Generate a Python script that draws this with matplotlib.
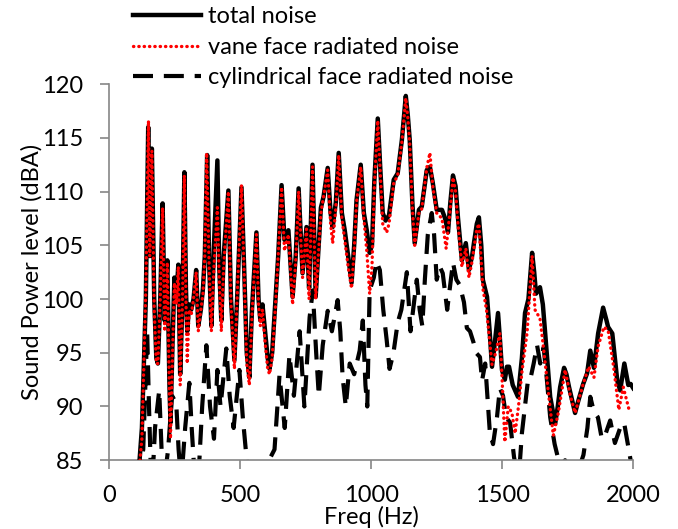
import matplotlib
matplotlib.use('Agg')
import matplotlib.pyplot as plt

plt.rcParams['font.family'] = ['Lato', 'DejaVu Sans']

# total noise (solid black)
total_f = [110, 125, 140, 149, 155, 163, 172, 180, 186, 195, 204, 212, 222, 230, 234, 242,
           249, 256, 264, 271, 280, 287, 293, 298, 305, 313, 322, 332, 340, 350, 358, 365,
           374, 382, 390, 400, 413, 420, 428, 437, 446, 455, 465, 478, 490, 505, 515, 525,
           535, 545, 562, 570, 577, 585, 595, 605, 612, 622, 635, 645, 658, 669, 684, 700,
           712, 723, 738, 753, 763, 776, 788, 797, 808, 818, 834, 845, 853, 865, 876, 888,
           899, 912, 925, 935, 944, 960, 972, 983, 994, 1003, 1012, 1025, 1035, 1044, 1055,
           1068, 1080, 1086, 1101, 1117, 1132, 1140, 1147, 1157, 1166, 1182, 1193, 1212,
           1224, 1235, 1250, 1270, 1282, 1293, 1302, 1312, 1322, 1331, 1346, 1361, 1373,
           1385, 1392, 1403, 1411, 1420, 1426, 1442, 1452, 1461, 1472, 1484, 1492, 1499,
           1510, 1518, 1526, 1540, 1560, 1575, 1587, 1600, 1614, 1622, 1629, 1644, 1655,
           1663, 1683, 1702, 1712, 1721, 1736, 1745, 1755, 1778, 1790, 1809, 1824, 1836,
           1850, 1866, 1885, 1898, 1904, 1920, 1939, 1950, 1966, 1981, 1990, 2000]
total_db = [83, 88, 100, 116.0, 104, 114.0, 100, 94.5, 94, 100, 108.9, 98, 103.6, 92, 88.5, 96,
            102, 100, 103.2, 93, 100, 111.8, 101, 97, 99.5, 99, 100, 102.7, 97.5, 99, 101, 104,
            113.4, 103, 97.5, 105, 112.9, 103, 98, 104, 107, 110.1, 100, 94.3, 101, 110.4, 103, 95,
            92.7, 99, 106.2, 100, 98, 99.5, 97, 94.5, 93.5, 95, 100, 104, 110.6, 105.5, 106.4, 100.2,
            104, 110.3, 102.4, 106.7, 101, 112.5, 100.2, 104, 108.5, 109.5, 112.2, 108, 106.7, 109, 113.6, 108,
            106.4, 104, 101.5, 105, 109.2, 112.5, 108, 106.4, 104.3, 105, 111, 116.8, 112, 108, 107.3,
            107.8, 110, 111.1, 111.7, 114.8, 118.9, 117, 114.8, 109, 105.2, 108.3, 108.6, 112,
            112.3, 110.8, 108.3, 108.3, 107.5, 106.2, 109, 111.5, 110.5, 107.6, 103.6, 105.2, 102.7,
            104, 105.2, 107, 107.6, 105, 101.8, 100.2, 97, 93.7, 96, 98.7, 96, 93.4,
            92.5, 93.7, 93.7, 92, 90.9, 94.5, 98.7, 100, 104.3, 102.5, 100.5, 101.1, 99.5,
            97.1, 90.9, 88.4, 90, 91.8, 93.6, 93, 91.8, 89.4, 90.5, 92.1, 93.1, 95.2,
            93.6, 96.8, 99.2, 98, 97.4, 96.8, 92.4, 91.5, 94, 92, 92.1, 91.7]

# vane face radiated noise (red dotted)
vane_f = [110, 125, 140, 150, 155, 163, 172, 180, 186, 195, 204, 212, 222, 230, 234, 242,
          249, 256, 264, 271, 280, 287, 293, 298, 305, 313, 322, 332, 340, 350, 358, 365,
          372, 382, 390, 400, 413, 420, 428, 437, 446, 455, 465, 478, 490, 505, 515, 525,
          535, 545, 562, 570, 577, 585, 595, 605, 612, 622, 635, 645, 658, 669, 684, 700,
          712, 723, 738, 753, 763, 776, 788, 797, 808, 818, 834, 845, 853, 865, 876, 888,
          899, 912, 925, 935, 944, 960, 972, 983, 994, 1003, 1012, 1025, 1035, 1044, 1059,
          1068, 1080, 1086, 1101, 1117, 1132, 1140, 1147, 1157, 1166, 1182, 1193, 1212,
          1224, 1235, 1250, 1270, 1286, 1302, 1312, 1322, 1331, 1346, 1361, 1373,
          1385, 1392, 1403, 1411, 1426, 1440, 1461, 1475, 1491, 1500, 1510, 1523, 1537,
          1549, 1562, 1576, 1595, 1614, 1625, 1644, 1655, 1678, 1695, 1714, 1740, 1759,
          1778, 1809, 1830, 1850, 1866, 1888, 1904, 1925, 1945, 1962, 1985]
vane_db = [83, 87, 101, 116.6, 104, 113.8, 99, 94, 94, 100, 108.5, 97, 103.4, 91, 87, 95,
           101.5, 99.5, 103, 92, 100, 111.5, 100, 94, 99, 98.5, 100, 102.5, 97, 99, 100.5, 104,
           113.6, 102.5, 97, 103, 108.5, 102, 97, 103, 106.5, 110, 99.5, 93.5, 101, 110.6, 102.5, 94,
           92, 98.5, 106, 99.5, 97.5, 99, 96, 93.5, 93, 94.5, 99.5, 104, 110.4, 104.5, 106, 99.5,
           103.5, 110, 102, 106.5, 100, 112.3, 100, 103.5, 108, 109.5, 112, 107, 105.2, 108.5, 113.4, 107.5,
           105.5, 103, 101, 104.5, 109, 112.3, 107.5, 104.5, 100.5, 103, 110.5, 116.6, 111.5, 107, 106.2,
           107, 109.5, 110.8, 111.5, 114.6, 118.7, 116.8, 114.5, 108.5, 105, 108, 108.4, 112.2,
           113.6, 110.5, 108, 107.5, 104.7, 108.5, 111.3, 110, 107, 103, 104.7, 102,
           103.5, 104.7, 106.5, 107, 101, 99, 93.9, 95, 96.8, 92.3, 86.7, 90, 89.4,
           87.5, 90, 93.4, 96.9, 104, 99, 98.2, 96, 90.9, 87.3, 89.4, 93.4, 91.1,
           89.4, 92.1, 93.7, 92.7, 95.6, 97.4, 97.1, 93.7, 89.7, 91.8, 89.6]

# cylindrical face radiated noise (dashed black)
cyl_f = [110, 130, 145, 152, 158, 165, 175, 191, 200, 210, 225, 240, 256, 265, 275, 290,
         306, 315, 325, 340, 355, 371, 385, 400, 413, 425, 447, 460, 475, 497, 510, 525,
         540, 560, 590, 610, 631, 650, 670, 688, 705, 727, 745, 765, 777, 790, 800, 815,
         834, 850, 872, 882, 891, 903, 918, 935, 956, 968, 978, 985, 994, 1010, 1020, 1033,
         1046, 1059, 1070, 1085, 1101, 1115, 1136, 1150, 1160, 1174, 1185, 1195, 1205, 1216,
         1231, 1240, 1250, 1262, 1273, 1290, 1300, 1312, 1325, 1338, 1354, 1365, 1377, 1390,
         1400, 1415, 1423, 1435, 1453, 1465, 1480, 1491, 1503, 1515, 1530, 1545, 1555, 1565,
         1575, 1598, 1606, 1620, 1633, 1645, 1658, 1670, 1683, 1700, 1720, 1740, 1760, 1790,
         1810, 1825, 1836, 1850, 1865, 1880, 1895, 1912, 1930, 1950, 1965, 1990, 2000]
cyl_db = [83, 86, 97, 90, 85, 83, 88, 91.5, 86, 83, 86, 91, 90.3, 86, 83, 88,
          92.2, 88, 84, 83, 90, 95.7, 90, 87, 93.4, 90, 95.4, 91, 88, 93.4, 89, 85,
          83, 83, 83, 85, 86, 92.9, 88, 94.8, 91, 97, 90, 98.3, 100.8, 95, 91, 95.7,
          98.9, 97, 99.9, 97, 92.7, 90, 94, 93, 95.2, 98, 92, 90, 100.8, 102, 103.5, 102.7,
          99, 96.2, 93.5, 95, 97.8, 99, 102.5, 97, 99, 101.8, 99, 97.5, 101.9, 106,
          108, 106, 101.8, 103, 102.4, 99, 101, 103.4, 101.8, 101.3, 99.7, 97.3, 97, 96,
          95, 94.6, 92.4, 94, 87.5, 86.5, 89, 91.7, 91, 89, 88.5, 85.3, 84, 84,
          87.5, 92.4, 92.4, 94, 95.7, 94, 95.5, 92.6, 89, 86.5, 84.5, 85, 84, 84,
          85.5, 88, 90.9, 89.5, 89, 87, 87.5, 88.7, 86.6, 88, 88.5, 85, 84.5]

fig = plt.figure(figsize=(6.78, 5.29), dpi=100)
ax = fig.add_axes([0.161, 0.130, 0.773, 0.711])

ax.plot(total_f, total_db, color='black', lw=3.2, solid_joinstyle='round',
        label='total noise', zorder=3)
ax.plot(vane_f, vane_db, color='red', lw=2.4, linestyle=(0, (0.1, 1.5)),
        dash_capstyle='round', label='vane face radiated noise', zorder=4)
ax.plot(cyl_f, cyl_db, color='black', lw=3.0, linestyle=(0, (4.8, 2.6)),
        label='cylindrical face radiated noise', zorder=2)

ax.set_xlim(0, 2000)
ax.set_ylim(85, 120)
ax.set_xticks([0, 500, 1000, 1500, 2000])
ax.set_yticks([85, 90, 95, 100, 105, 110, 115, 120])
ax.set_xlabel('Freq (Hz)', fontsize=17, labelpad=0.5)
ax.set_ylabel('Sound Power level (dBA)', fontsize=17, labelpad=0)

# excel-like axes: only left/bottom, grey
for s in ['top', 'right']:
    ax.spines[s].set_visible(False)
for s in ['left', 'bottom']:
    ax.spines[s].set_color('#868686')
    ax.spines[s].set_linewidth(1.2)
ax.tick_params(axis='both', which='both', direction='out', length=6.5, width=1.2,
               color='#868686', labelsize=17, labelcolor='black')
ax.tick_params(axis='x', pad=11)
ax.tick_params(axis='y', pad=12)

fig.legend(loc='upper left', bbox_to_anchor=(0.196, 0.988), frameon=False,
           fontsize=17, handlelength=2.9, handletextpad=0.3, labelspacing=0.4,
           borderpad=0, borderaxespad=0)

fig.savefig('out.png', dpi=100)
